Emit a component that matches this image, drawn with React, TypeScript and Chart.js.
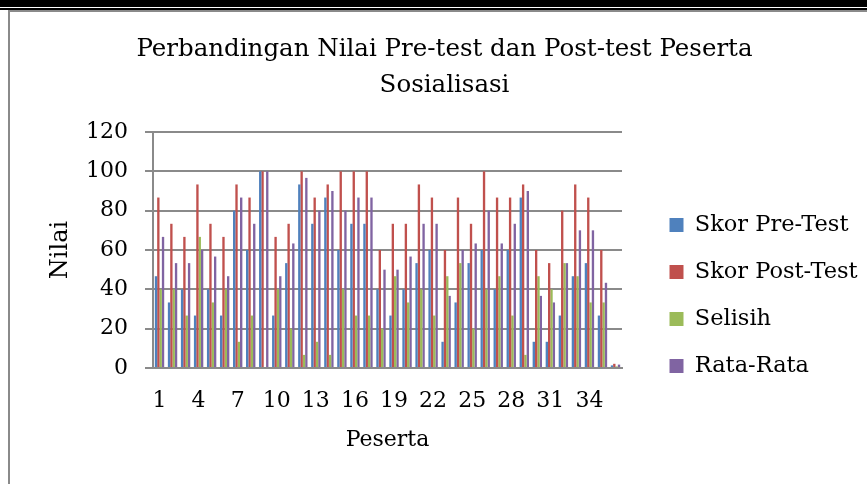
import React, { useEffect, useRef } from 'react';
import { Chart, registerables } from 'chart.js';

Chart.register(...registerables);

const categories = ['1','2','3','4','5','6','7','8','9','10','11','12','13','14','15','16','17','18','19','20','21','22','23','24','25','26','27','28','29','30','31','32','33','34','35','36'];

const skorPreTest = [46.67, 33.33, 40, 26.67, 40, 26.67, 80, 60, 100, 26.67, 53.33, 93.33, 73.33, 86.67, 60, 73.33, 73.33, 40, 26.67, 40, 53.33, 60, 13.33, 33.33, 53.33, 60, 40, 60, 86.67, 13.33, 13.33, 26.67, 46.67, 53.33, 26.67, 1.33];
const skorPostTest = [86.67, 73.33, 66.67, 93.33, 73.33, 66.67, 93.33, 86.67, 100, 66.67, 73.33, 100, 86.67, 93.33, 100, 100, 100, 60, 73.33, 73.33, 93.33, 86.67, 60, 86.67, 73.33, 100, 86.67, 86.67, 93.33, 60, 53.33, 80, 93.33, 86.67, 60, 2.13];
const selisih = [40, 40, 26.67, 66.67, 33.33, 40, 13.33, 26.67, 0, 40, 20, 6.67, 13.33, 6.67, 40, 26.67, 26.67, 20, 46.67, 33.33, 40, 26.67, 46.67, 53.33, 20, 40, 46.67, 26.67, 6.67, 46.67, 40, 53.33, 46.67, 33.33, 33.33, 0.8];
const rataRata = [66.67, 53.33, 53.33, 60, 56.67, 46.67, 86.67, 73.33, 100, 46.67, 63.33, 96.67, 80, 90, 80, 86.67, 86.67, 50, 50, 56.67, 73.33, 73.33, 36.67, 60, 63.33, 80, 63.33, 73.33, 90, 36.67, 33.33, 53.33, 70, 70, 43.33, 1.73];

const titleLines = ['Perbandingan Nilai Pre-test dan Post-test Peserta', 'Sosialisasi'];
const seriesNames = ['Skor Pre-Test', 'Skor Post-Test', 'Selisih', 'Rata-Rata'];
const seriesColors = ['#4F81BD', '#C0504D', '#9BBB59', '#8064A2'];
const yTitle = 'Nilai';
const xTitle = 'Peserta';

const FONT = 'DejaVu Serif';
const GRID = '#8a8a8a';

export default function App() {
  const ref = useRef<HTMLCanvasElement>(null);

  useEffect(() => {
    document.body.style.margin = '0';
    const values = [skorPreTest, skorPostTest, selisih, rataRata];
    const chart = new Chart(ref.current!, {
      type: 'bar',
      data: {
        labels: categories,
        datasets: values.map((v, i) => ({
          label: seriesNames[i],
          data: v,
          backgroundColor: seriesColors[i],
          borderWidth: 0,
          categoryPercentage: 0.72,
          barPercentage: 1.0,
        })),
      },
      options: {
        animation: false,
        responsive: false,
        devicePixelRatio: 1,
        layout: { padding: { left: 12, right: 0, top: 0, bottom: 0 } },
        plugins: {
          tooltip: { enabled: false },
          title: {
            display: true,
            text: titleLines,
            color: '#000',
            font: { family: FONT, size: 24.5, weight: 'normal', lineHeight: 36 / 24.5 },
            padding: { top: 20, bottom: 28 },
          },
          legend: {
            display: true,
            position: 'right',
            align: 'center',
            maxWidth: 222,
            title: { display: true, text: '', font: { size: 10 }, padding: { top: 83, bottom: 0 } },
            labels: {
              boxWidth: 14,
              boxHeight: 14,
              padding: 24.5,
              color: '#000',
              font: { family: FONT, size: 22.5 },
            },
          },
        },
        scales: {
          x: {
            grid: { display: false },
            border: { display: true, color: GRID, width: 2 },
            ticks: {
              autoSkip: false,
              maxRotation: 0,
              minRotation: 0,
              padding: 12,
              color: '#000',
              font: { family: FONT, size: 22 },
              callback: (_v: any, i: number) => (i % 3 === 0 ? categories[i] : ''),
            },
            title: {
              display: true,
              text: xTitle,
              color: '#000',
              font: { family: FONT, size: 22 },
              padding: { top: 0, bottom: 30.8 },
            },
            afterFit: (s: any) => { s.height = 116; },
          },
          y: {
            min: 0,
            max: 120,
            ticks: {
              stepSize: 20,
              padding: 17,
              color: '#000',
              font: { family: FONT, size: 22 },
            },
            grid: { color: GRID, lineWidth: 2, tickLength: 8 },
            border: { display: true, color: GRID, width: 2 },
            title: {
              display: true,
              text: yTitle,
              color: '#000',
              font: { family: FONT, size: 24 },
              padding: { top: 24.6, bottom: 0 },
            },
            afterFit: (s: any) => { s.width = 131; },
          },
          pad: {
            type: 'linear',
            position: 'right',
            display: true,
            grid: { display: false, drawOnChartArea: false },
            border: { display: false },
            ticks: { display: false },
            afterFit: (s: any) => { s.width = 23; },
          },
        },
      },
    } as any);
    return () => chart.destroy();
  }, []);

  return (
    <div style={{ position: 'relative', width: 867, height: 484, overflow: 'hidden', background: '#fff' }}>
      <div style={{ position: 'absolute', left: 0, top: 0, width: 867, height: 7, background: '#000' }} />
      <div style={{ position: 'absolute', left: 0, top: 8, width: 867, height: 2, background: '#000' }} />
      <div
        style={{
          position: 'absolute', left: 8, top: 10, width: 859, height: 474,
          borderLeft: '2px solid #8a8a8a', borderTop: '2px solid #8a8a8a', boxSizing: 'border-box',
        }}
      />
      <canvas
        ref={ref}
        width={857}
        height={472}
        style={{ position: 'absolute', left: 10, top: 12, width: 857, height: 472 }}
      />
    </div>
  );
}
